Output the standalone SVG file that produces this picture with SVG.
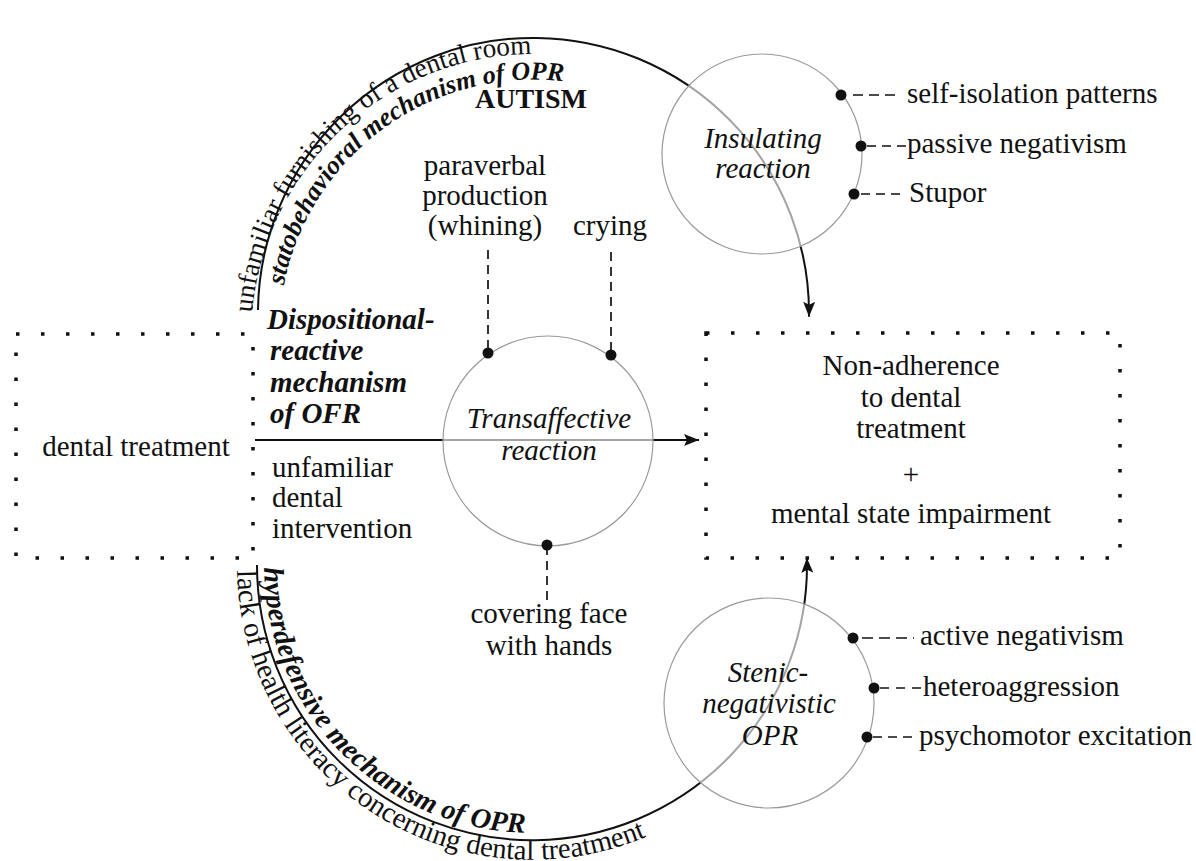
<svg xmlns="http://www.w3.org/2000/svg" width="1196" height="861" viewBox="0 0 1196 861">
<style>
text{font-family:"Liberation Serif","Times New Roman",serif;font-size:29px;fill:#111}
.c{text-anchor:middle}
.i{font-style:italic}
.bi{font-style:italic;font-weight:bold}
.b{font-weight:bold}
.arc{fill:none;stroke:#111;stroke-width:2}
.lead{stroke:#111;stroke-width:1.7;stroke-dasharray:9 6;fill:none}
.box{fill:none;stroke:#111;stroke-width:3.5;stroke-dasharray:3.5 21.5}
.circ{fill:#fff;fill-opacity:0.62;stroke:#9a9a9a;stroke-width:1.2}
.dot{fill:#111}
</style>
<defs>
<marker id="ah" markerUnits="userSpaceOnUse" markerWidth="16" markerHeight="12" refX="15" refY="6" orient="auto">
<path d="M0,0 L15,6 L0,12 L3,6 z" fill="#111"/>
</marker>
<path id="pTopOut" d="M251.1,336.7 A283,283 0 0 1 816,312"/>
<path id="pTopIn" d="M279,334.2 A255,255 0 0 1 788,312"/>
<path id="pBotIn" d="M265,541.6 A268,268 0 1 0 800,565"/>
<path id="pBotOut" d="M238.1,539.3 A295,295 0 1 0 827,565"/>
</defs>
<rect width="1196" height="861" fill="#fff"/>

<g id="connectors">
<path class="arc" d="M258,310 A275,275 0 1 1 809,316.8" marker-end="url(#ah)"/>
<path class="arc" d="M257,565 A275,275 0 1 0 806.9,557.8" marker-end="url(#ah)"/>
<line class="arc" x1="255" y1="440" x2="699" y2="440" marker-end="url(#ah)"/>
<line class="lead" x1="488" y1="250" x2="488" y2="353"/>
<line class="lead" x1="611" y1="252" x2="611" y2="355"/>
<line class="lead" x1="547" y1="546" x2="547" y2="604"/>
<line class="lead" x1="853" y1="95" x2="899" y2="95" style="stroke-dasharray:10 6"/>
<line class="lead" x1="867" y1="146" x2="907" y2="146"/>
<line class="lead" x1="861" y1="194" x2="900" y2="194"/>
<line class="lead" x1="862" y1="638" x2="914" y2="638" style="stroke-dasharray:11 6"/>
<line class="lead" x1="880" y1="688" x2="922" y2="688" style="stroke-dasharray:9 7"/>
<line class="lead" x1="873" y1="737" x2="912" y2="737" style="stroke-dasharray:9 6"/>
</g>

<g id="arc-labels">
<text style="font-size:27.2px"><textPath href="#pTopOut" startOffset="24">unfamiliar furnishing of a dental room</textPath></text>
<text class="bi" style="font-size:26px"><textPath href="#pTopIn" startOffset="49">statobehavioral mechanism of OPR</textPath></text>
<text class="bi" style="font-size:28.4px"><textPath href="#pBotIn" startOffset="26">hyperdefensive mechanism of OPR</textPath></text>
<text style="font-size:28.6px"><textPath href="#pBotOut" startOffset="31">lack of health literacy concerning dental treatment</textPath></text>
</g>

<g id="autism">
<text class="c b" x="531" y="108" style="font-size:28px">AUTISM</text>
</g>

<g id="dental-treatment">
<rect class="box" x="16" y="334" width="237" height="224"/>
<text class="c" x="136" y="456">dental treatment</text>
</g>

<g id="mechanism-label">
<text class="bi" x="267" y="329">Dispositional-</text>
<text class="bi" x="270" y="360">reactive</text>
<text class="bi" x="270" y="392">mechanism</text>
<text class="bi" x="270" y="423">of OFR</text>
<text x="272" y="477">unfamiliar</text>
<text x="272" y="507">dental</text>
<text x="272" y="538">intervention</text>
</g>

<g id="outcome">
<rect class="box" x="706" y="333" width="414" height="225"/>
<text class="c" x="911" y="375">Non-adherence</text>
<text class="c" x="911" y="407">to dental</text>
<text class="c" x="911" y="438">treatment</text>
<text class="c" x="911" y="484">+</text>
<text class="c" x="911" y="523">mental state impairment</text>
</g>

<g id="transaffective">
<circle class="circ" cx="548" cy="441" r="105"/>
<text class="c i" x="549" y="428">Transaffective</text>
<text class="c i" x="549" y="460">reaction</text>
<circle class="dot" cx="488" cy="353" r="5.5"/>
<circle class="dot" cx="611" cy="355" r="5.5"/>
<circle class="dot" cx="547" cy="545" r="5.5"/>
</g>

<g id="transaffective-signs">
<text class="c" x="485" y="175">paraverbal</text>
<text class="c" x="485" y="205">production</text>
<text class="c" x="485" y="235">(whining)</text>
<text class="c" x="610" y="235">crying</text>
<text class="c" x="549" y="623">covering face</text>
<text class="c" x="549" y="655">with hands</text>
</g>

<g id="insulating">
<circle class="circ" cx="762" cy="154" r="100"/>
<text class="c i" x="763" y="148">Insulating</text>
<text class="c i" x="763" y="178">reaction</text>
<circle class="dot" cx="841" cy="95" r="5.5"/>
<circle class="dot" cx="861" cy="146" r="5.5"/>
<circle class="dot" cx="854" cy="194" r="5.5"/>
<text x="907" y="103">self-isolation patterns</text>
<text x="907" y="153">passive negativism</text>
<text x="909" y="202">Stupor</text>
</g>

<g id="stenic">
<circle class="circ" cx="769" cy="703" r="105"/>
<text class="c i" x="768" y="682">Stenic-</text>
<text class="c i" x="769" y="713">negativistic</text>
<text class="c i" x="770" y="745">OPR</text>
<circle class="dot" cx="853" cy="638" r="5.5"/>
<circle class="dot" cx="874" cy="688" r="5.5"/>
<circle class="dot" cx="867" cy="737" r="5.5"/>
<text x="920" y="645">active negativism</text>
<text x="923" y="696">heteroaggression</text>
<text x="919" y="745">psychomotor excitation</text>
</g>
</svg>
